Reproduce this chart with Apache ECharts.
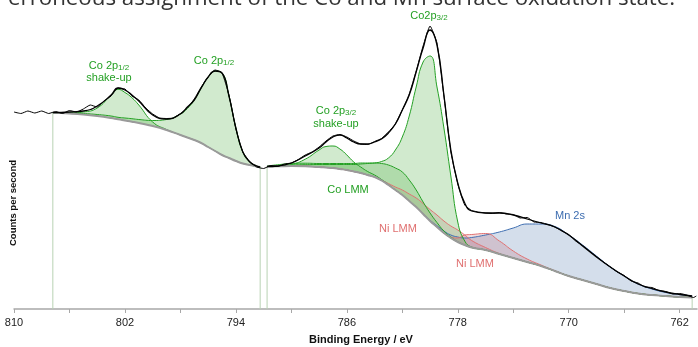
<!DOCTYPE html>
<html>
<head>
<meta charset="utf-8">
<script src="https://cdn.jsdelivr.net/npm/echarts@6/dist/echarts.min.js"></script>
<style>
  html, body { margin: 0; padding: 0; background: #fff; }
  #chart { width: 698px; height: 347px; }
</style>
</head>
<body>
<div id="chart"></div>
<script>
// x axis labels / ticks (binding energy, eV)
const tickLabels = [762, 770, 778, 786, 794, 802, 810];
const tickMarks = [762, 766, 770, 774, 778, 782, 786, 790, 794, 798, 802, 806, 810];

// region 1 (Co 2p1/2)
const energyR1 = [807.2, 806, 805, 804, 803, 802.5, 802, 801.5, 801, 800, 799, 798, 797.5, 797, 796.5, 796, 795.5, 795, 794.5, 794, 793.5, 793, 792.5, 792.25];
const backgroundR1 = [196.3, 195.5, 194.5, 193, 191, 189.7, 188.5, 187.3, 186, 183, 179, 174, 171.5, 169, 166, 162, 158, 154, 151, 148, 145.5, 144, 142.5, 142];
const co2p12ShakeUp = [0, 0.5, 2.5, 8, 23, 30, 28, 24, 18, 4, 0.5, 0, 0, 0, 0, 0, 0, 0, 0, 0, 0, 0, 0, 0];
const co2p12 = [0, 0.5, 1, 1.5, 2, 2, 2.5, 3, 3.5, 5.5, 10.5, 21, 29, 40, 55, 70, 80, 82, 62, 33, 11.5, 3, 0.5, 0];
const envelopeR1 = [196.3, 197, 198, 203, 214, 221, 219, 214, 208, 194, 190, 195, 202, 209, 221, 232, 238, 236, 213, 181, 157, 147, 143, 142];

// region 2 (Co 2p3/2, Ni LMM, Mn 2s)
const energyR2 = [791.75, 791, 790, 789, 788, 787.5, 787, 786.5, 786, 785.5, 785, 784.5, 784, 783.5, 783, 782.5, 782, 781.5, 781, 780.5, 780, 779.5, 779, 778.5, 778, 777.5, 777, 776, 775, 774, 773, 772, 771, 770, 769, 768, 767, 766, 765, 764, 763, 762, 761.1];
const backgroundR2 = [142.5, 142.7, 143, 142.8, 142, 141.5, 141, 140, 139, 137.5, 136, 134, 132, 128.5, 124, 119, 114, 108, 102, 95, 88, 82, 76, 71, 67, 64, 61.5, 59, 55, 51, 47, 43, 38, 33, 29, 25, 21, 18, 15.5, 14, 13, 12, 11.5];
const co2p32ShakeUp = [0, 0, 1.5, 7, 17, 21, 22, 20, 15, 9.5, 6, 3.5, 2, 1, 0.5, 0, 0, 0, 0, 0, 0, 0, 0, 0, 0, 0, 0, 0, 0, 0, 0, 0, 0, 0, 0, 0, 0, 0, 0, 0, 0, 0, 0];
const coLMM = [0.5, 1.5, 2.5, 3, 3.5, 4, 4.5, 5.5, 6.5, 8, 10, 12, 14, 17, 20, 22, 23, 21, 17, 12, 8, 4.5, 2, 1, 0.3, 0, 0, 0, 0, 0, 0, 0, 0, 0, 0, 0, 0, 0, 0, 0, 0, 0, 0];
const co2p32 = [0, 0.5, 1, 1.5, 2.5, 3, 3.5, 4.5, 5.5, 7, 9, 11.5, 14, 19, 27, 40, 58, 85, 120, 152, 165, 140, 105, 62, 20, 4, 0.5, 0, 0, 0, 0, 0, 0, 0, 0, 0, 0, 0, 0, 0, 0, 0, 0];
const niLMM1 = [0, 0, 0, 0, 0, 0, 0, 0, 0, 0, 0, 0, 0, 0.5, 1.5, 3, 5, 7, 9, 10.5, 11.5, 12, 12, 12, 12, 10, 7, 2.5, 0.5, 0, 0, 0, 0, 0, 0, 0, 0, 0, 0, 0, 0, 0, 0];
const niLMM2 = [0, 0, 0, 0, 0, 0, 0, 0, 0, 0, 0, 0, 0, 0, 0, 0, 0, 0, 0, 0, 0, 0, 0, 1, 4, 10, 13, 16.5, 13, 7, 3, 1, 0.3, 0, 0, 0, 0, 0, 0, 0, 0, 0, 0];
const mn2s = [0, 0, 0, 0, 0, 0, 0, 0, 0, 0, 0, 0, 0, 0, 0, 0, 0, 0, 0, 0.4, 0.8, 1.3, 2, 3, 5, 7, 10, 15, 22, 30, 38, 42, 44.5, 41, 35, 28, 21, 15, 9.5, 6, 3.5, 2.5, 1.5];
const envelopeR2 = [142.5, 143, 146, 153, 161, 167, 172, 174, 171, 167, 165, 165, 167, 170, 176, 185, 199, 214, 237, 261, 279, 264, 214, 159, 126, 106, 98, 96, 96, 94, 90, 86, 82, 74, 63, 52, 42, 33, 25, 20.5, 17, 14.5, 13];

// measured spectrum
const rawEnergy = [810, 809.5, 809, 808.5, 808, 807.5, 807, 806.5, 806, 805.5, 805, 804.5, 804, 803.5, 803, 802.5, 802, 801.5, 801, 800.5, 800, 799.5, 799, 798.5, 798, 797.5, 797, 796.5, 796, 795.5, 795, 794.5, 794, 793.5, 793, 792.5, 792, 791.5, 791, 790.5, 790, 789.5, 789, 788.5, 788, 787.5, 787, 786.5, 786, 785.5, 785, 784.5, 784, 783.5, 783, 782.5, 782, 781.5, 781, 780.5, 780, 779.5, 779, 778.5, 778, 777.5, 777, 776.5, 776, 775.5, 775, 774.5, 774, 773.5, 773, 772.5, 772, 771.5, 771, 770.5, 770, 769.5, 769, 768.5, 768, 767.5, 767, 766.5, 766, 765.5, 765, 764.5, 764, 763.5, 763, 762.5, 762, 761.5, 761, 760.8];
const rawCounts = [197, 195.5, 198, 196, 198, 195.5, 197.5, 195.5, 198.5, 197, 200, 204, 202, 208, 213, 221, 220, 213, 209, 201, 195, 191, 190.5, 191, 195.5, 201, 210, 222, 232, 239, 236, 214, 180, 157, 147.5, 142, 140.5, 143.5, 142.5, 145, 146, 149.5, 154, 157, 162, 168, 173, 174.5, 172, 168, 165, 164.5, 167.5, 170.5, 177, 185, 199, 215, 238, 263, 283, 266, 213, 157, 125, 104, 98.5, 97, 96, 95.5, 96.5, 95, 94.5, 91, 91.5, 87, 86.5, 84.5, 82, 78, 74.5, 68, 63.5, 58, 52.5, 47, 42, 37, 33.5, 28, 26, 22, 21.5, 18.5, 17.5, 15, 15.5, 14, 11.5, 13];

// region limits
const limitEnergy = [807.2, 792.25, 791.75, 761.1];
const limitTop = [196.3, 142, 142.5, 11.5];

const GREEN = '#24a024', GREEN_FILL = 'rgba(100,185,90,0.42)';
const RED = '#e07070', RED_FILL = 'rgba(190,90,105,0.30)';
const BLUE = '#3d6db0', BLUE_FILL = 'rgba(85,125,175,0.36)';

function pairs(xs, ys) {
  return xs.map((x, i) => [x, ys[i]]);
}

// stacked pairs are [value, energy] so the value column is the one that gets stacked
function component(name, energy, base, height, line, fill) {
  const common = {
    type: 'line', stack: name, stackStrategy: 'all', smooth: true, symbol: 'none', silent: true,
    encode: { x: 1, y: 0 }
  };
  return [
    Object.assign({}, common, {
      data: energy.map((e, i) => [base[i], e]), lineStyle: { opacity: 0 }
    }),
    Object.assign({}, common, {
      data: energy.map((e, i) => [height[i], e]), lineStyle: { color: line, width: 1 }, areaStyle: { color: fill }
    })
  ];
}

const series = [].concat(
  component('su12', energyR1, backgroundR1, co2p12ShakeUp, GREEN, GREEN_FILL),
  component('p12', energyR1, backgroundR1, co2p12, GREEN, GREEN_FILL),
  component('mn', energyR2, backgroundR2, mn2s, BLUE, BLUE_FILL),
  component('ni1', energyR2, backgroundR2, niLMM1, RED, RED_FILL),
  component('ni2', energyR2, backgroundR2, niLMM2, RED, RED_FILL),
  component('su32', energyR2, backgroundR2, co2p32ShakeUp, GREEN, GREEN_FILL),
  component('lmm', energyR2, backgroundR2, coLMM, GREEN, GREEN_FILL),
  component('p32', energyR2, backgroundR2, co2p32, GREEN, GREEN_FILL)
);

limitEnergy.forEach((e, i) => {
  series.push({
    type: 'line', symbol: 'none', silent: true,
    data: [[e, 0], [e, limitTop[i]]],
    lineStyle: { color: '#b8d2b4', width: 1 }
  });
});

[[energyR1, backgroundR1], [energyR2, backgroundR2]].forEach(([e, b]) => {
  series.push({
    type: 'line', smooth: true, symbol: 'none', silent: true,
    data: pairs(e, b), lineStyle: { color: '#9a9a9a', width: 2 }
  });
});

[[energyR1, envelopeR1], [energyR2, envelopeR2]].forEach(([e, v]) => {
  series.push({
    type: 'line', smooth: true, symbol: 'none', silent: true,
    data: pairs(e, v), lineStyle: { color: '#000', width: 1.3 }
  });
});

series.push({
  type: 'line', smooth: 0.15, symbol: 'none', silent: true,
  data: pairs(rawEnergy, rawCounts), lineStyle: { color: '#000', width: 1 }
});

const LABEL_FONT = '11px "Liberation Sans", Arial, sans-serif';
const sub = { fontSize: 8, verticalAlign: 'bottom', fontFamily: 'Liberation Sans' };

function label(x, y, text, color, rich) {
  return {
    type: 'text', x: x, y: y, silent: true, z: 100,
    style: {
      text: text, fill: color, font: LABEL_FONT,
      textAlign: 'center', textVerticalAlign: 'middle',
      rich: rich ? { a: { fontSize: 11, fontFamily: 'Liberation Sans', fill: color }, s: Object.assign({ fill: color }, sub) } : undefined
    }
  };
}

const chart = echarts.init(document.getElementById('chart'));
chart.setOption({
  animation: false,
  grid: { left: 14, right: 1, top: 20, bottom: 38 },
  xAxis: {
    type: 'value', inverse: true, min: 760.75, max: 810,
    axisLine: { lineStyle: { color: '#a8a8a8', width: 1.5 } },
    axisTick: { show: true, length: 4, customValues: tickMarks, lineStyle: { color: '#a8a8a8' } },
    axisLabel: {
      customValues: tickLabels, color: '#222', margin: 8,
      fontSize: 11, fontFamily: 'Liberation Sans'
    },
    splitLine: { show: false }
  },
  yAxis: { type: 'value', min: 0, max: 289, show: false },
  series: series,
  graphic: [
    {
      type: 'text', x: 8, y: -1, silent: true,
      style: {
        text: 'erroneous assignment of the Co and Mn surface oxidation state.',
        fill: '#333', font: '22.3px "Open Sans", sans-serif', textVerticalAlign: 'middle'
      }
    },
    {
      type: 'text', x: 13, y: 203, rotation: Math.PI / 2, silent: true,
      style: {
        text: 'Counts per second', fill: '#111', font: 'bold 9.5px "Liberation Sans", Arial, sans-serif',
        textAlign: 'center', textVerticalAlign: 'middle'
      }
    },
    {
      type: 'text', x: 361, y: 340, silent: true,
      style: {
        text: 'Binding Energy / eV', fill: '#111', font: 'bold 11px "Liberation Sans", Arial, sans-serif',
        textAlign: 'center', textVerticalAlign: 'middle'
      }
    },
    label(109, 66, '{a|Co 2p}{s|1/2}', GREEN, true),
    label(109, 78, 'shake-up', GREEN),
    label(214, 61, '{a|Co 2p}{s|1/2}', GREEN, true),
    label(429, 16, '{a|Co2p}{s|3/2}', GREEN, true),
    label(336, 111, '{a|Co 2p}{s|3/2}', GREEN, true),
    label(336, 124, 'shake-up', GREEN),
    label(348, 190, 'Co LMM', GREEN),
    label(398, 229, 'Ni LMM', RED),
    label(475, 264, 'Ni LMM', RED),
    label(570, 216, 'Mn 2s', BLUE)
  ]
});
</script>
</body>
</html>
